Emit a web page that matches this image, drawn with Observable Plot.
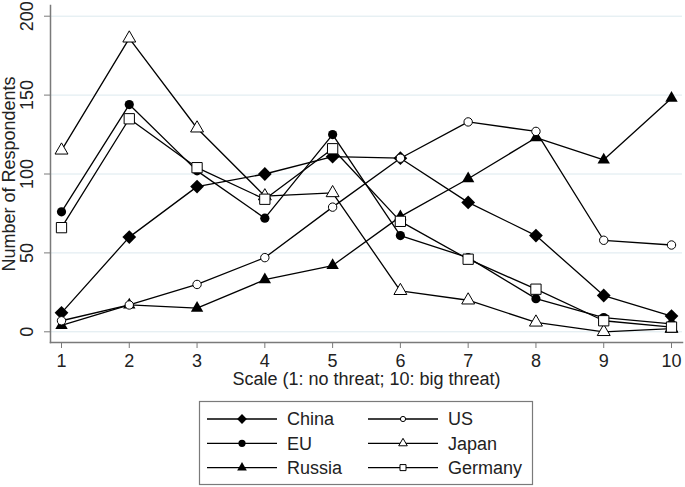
<!DOCTYPE html>
<html>
<head>
<meta charset="utf-8">
<script src="https://cdn.jsdelivr.net/npm/d3@7"></script>
<script src="https://cdn.jsdelivr.net/npm/@observablehq/plot@0.6"></script>
<style>
  html, body { margin: 0; padding: 0; background: #fff; }
  #chart svg { display: block; }
</style>
</head>
<body>
<div id="chart"></div>
<script>
// ---- data ----
const scalePoints = [1, 2, 3, 4, 5, 6, 7, 8, 9, 10];
const china   = [12, 60, 92, 100, 111, 110, 82, 61, 23, 10];
const eu      = [76, 144, 102, 72, 125, 61, 47, 21, 9, 5];
const russia  = [4, 17, 15, 33, 42, 73, 97, 123, 109, 148];
const us      = [7, 17, 30, 47, 79, 110, 133, 127, 58, 55];
const japan   = [115, 186, 129, 86, 88, 26, 20, 6, 0, 2];
const germany = [66, 135, 104, 84, 116, 70, 46, 27, 7, 3];
const yTicks = [0, 50, 100, 150, 200];
const xTitle = "Scale (1: no threat; 10: big threat)";
const yTitle = "Number of Respondents";

const series = [
  {name: "China",   values: china,   symbol: "diamond2", fill: "black", stroke: "none",  r: 6.2, lr: 4.4},
  {name: "EU",      values: eu,      symbol: "circle",   fill: "black", stroke: "none",  r: 4.6, lr: 3.6},
  {name: "Russia",  values: russia,  symbol: "triangle", fill: "black", stroke: "none",  r: 4.6, lr: 3.6},
  {name: "US",      values: us,      symbol: "circle",   fill: "white", stroke: "black", r: 4.2, lr: 2.6},
  {name: "Japan",   values: japan,   symbol: "triangle", fill: "white", stroke: "black", r: 4.8, lr: 3.2},
  {name: "Germany", values: germany, symbol: "square",   fill: "white", stroke: "black", r: 5.8, lr: 3.4}
];

const rows = series.flatMap(s => s.values.map((v, i) => ({series: s.name, x: scalePoints[i], y: v})));

const font = "'Liberation Sans', Arial, Helvetica, sans-serif";
const axisColor = "#7a7a7a";
const fs = 18;

const marks = [
  Plot.gridY(yTicks, {stroke: "#dce9ee", strokeOpacity: 1, strokeWidth: 1}),
  Plot.frame({anchor: "left", stroke: axisColor, strokeWidth: 1.5}),
  Plot.frame({anchor: "bottom", stroke: axisColor, strokeWidth: 1.5}),
  Plot.axisX({ticks: scalePoints, tickSize: 6, tickPadding: 6, stroke: axisColor, fill: "#222", fontSize: fs, label: null, tickFormat: d => String(d)}),
  Plot.axisY({ticks: yTicks, tickSize: 6, stroke: axisColor, tickFormat: () => "", label: null}),
  Plot.text(yTicks, {y: d => d, text: d => String(d), frameAnchor: "left", dx: -23, rotate: -90, textAnchor: "middle", fontSize: fs, fill: "#222"}),
  Plot.text([yTitle], {frameAnchor: "left", dx: -41, rotate: -90, textAnchor: "middle", fontSize: fs, fill: "#222"}),
  Plot.text([xTitle], {frameAnchor: "bottom", dy: 42, dx: 0, textAnchor: "middle", fontSize: fs, fill: "#222"})
];

for (const s of series) {
  marks.push(Plot.line(rows.filter(d => d.series === s.name), {x: "x", y: "y", stroke: "black", strokeWidth: 1.3}));
}
for (const s of series) {
  marks.push(Plot.dot(rows.filter(d => d.series === s.name), {x: "x", y: "y", symbol: s.symbol, r: s.r, fill: s.fill, stroke: s.stroke, strokeWidth: 1}));
}

const chart = Plot.plot({
  width: 685,
  height: 395,
  marginLeft: 50,
  marginRight: 3,
  marginTop: 5,
  marginBottom: 53,
  style: {fontFamily: font, fontSize: fs + "px", background: "white", color: "#222"},
  x: {domain: [1, 10], insetLeft: 11, insetRight: 11},
  y: {domain: [0, 200], insetTop: 10.7, insetBottom: 10.7},
  marks
});
document.getElementById("chart").appendChild(chart);

// ---- legend (below the plot) ----
const leg = d3.select("#chart").append("svg")
  .attr("width", 685).attr("height", 92)
  .style("font-family", font);
leg.append("rect").attr("x", 199.5).attr("y", 6.5).attr("width", 333).attr("height", 83)
  .attr("fill", "white").attr("stroke", axisColor).attr("stroke-width", 1.2);
const symMap = {circle: d3.symbolCircle, triangle: d3.symbolTriangle, square: d3.symbolSquare, diamond2: d3.symbolDiamond2};
series.forEach((s, i) => {
  const col = i < 3 ? 0 : 1;
  const row = i % 3;
  const x0 = col === 0 ? 207 : 368;
  const y = 24 + row * 24.3;
  const g = leg.append("g");
  g.append("line").attr("x1", x0).attr("x2", x0 + 70).attr("y1", y).attr("y2", y)
    .attr("stroke", "black").attr("stroke-width", 1.3);
  g.append("path").attr("transform", `translate(${x0 + 35},${y})`)
    .attr("d", d3.symbol(symMap[s.symbol], Math.PI * s.lr * s.lr)())
    .attr("fill", s.fill).attr("stroke", s.stroke).attr("stroke-width", 1);
  g.append("text").attr("x", x0 + 80).attr("y", y).attr("dy", "0.35em")
    .attr("font-size", fs).attr("fill", "#222").text(s.name);
});
</script>
</body>
</html>
